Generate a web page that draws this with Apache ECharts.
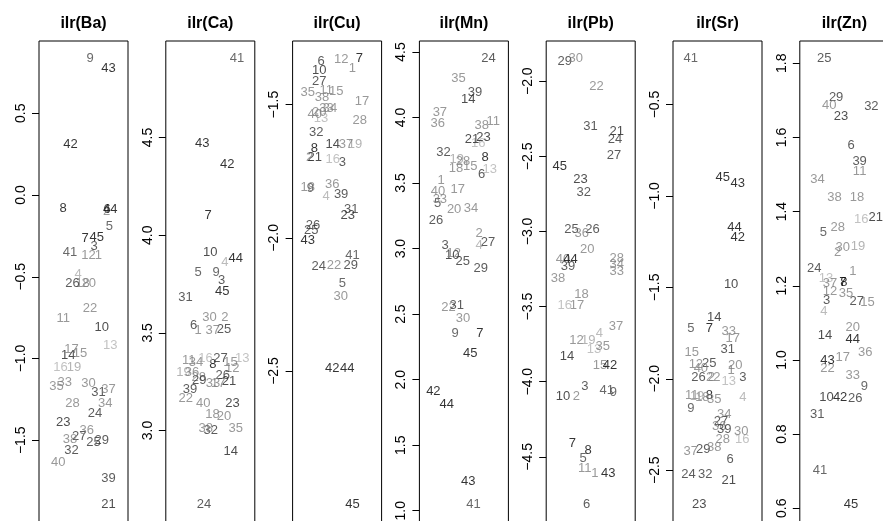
<!DOCTYPE html>
<html>
<head>
<meta charset="utf-8">
<title>ilr coordinates</title>
<script src="https://cdn.jsdelivr.net/npm/echarts@6/dist/echarts.min.js"></script>
<style>
  html, body { margin: 0; padding: 0; background: #fff; }
  #chart { width: 883px; height: 521px; }
</style>
</head>
<body>
<div id="chart"></div>
<script>
// sample numbers, one text label per sample in every panel
const obsIds = [1,2,3,4,5,6,7,8,9,10,11,12,13,14,15,16,17,18,19,20,21,22,23,24,25,
  26,27,28,29,30,31,32,33,34,35,36,37,38,39,40,41,42,43,44,45];
// grey level of each sample label
const obsGray = ["#808080","#808080","#333","#aaa","#444","#333","#000","#000","#444","#222",
  "#808080","#808080","#b3b3b3","#222","#808080","#b3b3b3","#808080","#808080","#a0a0a0","#808080",
  "#222","#808080","#222","#333","#333","#333","#333","#808080","#333","#808080",
  "#333","#333","#808080","#808080","#808080","#808080","#808080","#808080","#333","#808080",
  "#444","#000","#000","#000","#000"];

const panelTitles = ["ilr(Ba)", "ilr(Ca)", "ilr(Cu)", "ilr(Mn)", "ilr(Pb)", "ilr(Sr)", "ilr(Zn)"];

// values (ordered by sample number) and horizontal jitter inside the panel
const baValues = [-0.37,-0.10,-0.313,-0.486,-0.193,-0.09,-0.264,-0.085,0.833,-0.812,
  -0.757,-0.37,-0.918,-0.979,-0.970,-1.052,-0.944,-0.543,-1.052,-0.543,
  -1.891,-0.693,-1.388,-1.337,-1.514,-0.543,-1.474,-1.276,-1.504,-1.154,
  -1.209,-1.565,-1.148,-1.276,-1.168,-1.439,-1.188,-1.494,-1.734,-1.636,
  -0.35,0.311,0.774,-0.089,-0.258];
const baJitter = [0.668,0.76,0.62,0.44,0.79,0.765,0.517,0.272,0.574,0.706,
  0.272,0.555,0.80,0.328,0.46,0.242,0.366,0.49,0.392,0.56,
  0.78,0.574,0.272,0.63,0.611,0.377,0.453,0.377,0.706,0.555,
  0.668,0.366,0.29,0.743,0.196,0.536,0.78,0.347,0.78,0.215,
  0.347,0.355,0.781,0.80,0.65];
const baTicks = [-1.5, -1.0, -0.5, 0.0, 0.5];

const caValues = [3.51,3.58,3.77,3.86,3.81,3.54,4.10,3.34,3.81,3.91,
  3.36,3.32,3.37,2.895,3.35,3.37,3.24,3.08,3.30,3.07,
  3.25,3.165,3.14,2.623,3.52,3.28,3.37,3.27,3.255,3.58,
  3.68,3.00,3.24,3.35,3.01,3.30,3.51,3.01,3.21,3.14,
  4.903,4.36,4.47,3.88,3.71];
const caJitter = [0.362,0.664,0.626,0.664,0.362,0.313,0.475,0.528,0.566,0.50,
  0.257,0.747,0.86,0.73,0.728,0.445,0.59,0.525,0.20,0.655,
  0.71,0.225,0.75,0.43,0.653,0.64,0.615,0.37,0.377,0.49,
  0.22,0.506,0.53,0.34,0.787,0.294,0.528,0.45,0.273,0.42,
  0.80,0.69,0.41,0.785,0.634];
const caTicks = [3.0, 3.5, 4.0, 4.5, 5.0];

const cuValues = [-1.363,-1.697,-1.718,-1.846,-2.171,-1.338,-1.328,-1.664,-1.813,-1.373,
  -1.448,-1.332,-1.552,-1.649,-1.45,-1.705,-1.488,-1.81,-1.649,-1.53,
  -1.697,-2.102,-1.917,-2.109,-1.973,-1.954,-1.413,-1.56,-2.102,-2.22,
  -1.892,-1.606,-1.515,-1.515,-1.456,-1.799,-1.649,-1.473,-1.836,-1.537,
  -2.065,-2.49,-2.01,-2.49,-3.0];
const cuJitter = [0.672,0.19,0.56,0.377,0.558,0.32,0.75,0.245,0.20,0.30,
  0.377,0.547,0.32,0.45,0.49,0.45,0.78,0.17,0.70,0.30,
  0.25,0.464,0.62,0.294,0.21,0.23,0.30,0.754,0.653,0.54,
  0.66,0.265,0.38,0.42,0.17,0.445,0.60,0.33,0.545,0.25,
  0.672,0.445,0.17,0.615,0.672];
const cuTicks = [-2.5, -2.0, -1.5];

const mnValues = [3.521,3.117,3.028,3.028,3.342,3.565,2.35,3.693,2.35,2.951,
  3.974,2.96,3.603,4.136,3.63,3.80,3.455,3.609,3.68,3.296,
  3.833,2.555,3.846,4.448,2.90,3.214,3.046,3.667,2.849,2.466,
  2.568,3.736,3.378,3.309,4.299,3.956,4.038,3.936,4.192,3.437,
  1.05,1.91,1.22,1.81,2.20];
const mnJitter = [0.243,0.67,0.29,0.67,0.205,0.70,0.68,0.737,0.40,0.37,
  0.83,0.385,0.79,0.55,0.57,0.66,0.43,0.41,0.42,0.39,
  0.59,0.326,0.72,0.775,0.486,0.187,0.77,0.49,0.69,0.49,
  0.42,0.27,0.23,0.58,0.438,0.205,0.23,0.70,0.625,0.21,
  0.607,0.157,0.55,0.307,0.57];
const mnTicks = [1.0, 1.5, 2.0, 2.5, 3.0, 3.5, 4.0, 4.5];

const pbValues = [-4.61,-4.10,-4.033,-3.678,-4.51,-4.815,-4.411,-4.46,-4.073,-4.10,
  -4.58,-3.722,-3.784,-3.833,-3.889,-3.489,-3.489,-3.422,-3.722,-3.122,
  -2.333,-2.038,-2.656,-2.389,-2.989,-2.984,-2.496,-3.178,-1.867,-1.851,
  -2.30,-2.74,-3.267,-3.222,-3.762,-3.011,-3.629,-3.311,-3.233,-3.189,
  -4.056,-3.889,-4.61,-3.189,-2.567];
const pbJitter = [0.547,0.34,0.434,0.596,0.415,0.453,0.294,0.472,0.755,0.189,
  0.434,0.34,0.536,0.234,0.604,0.208,0.347,0.396,0.472,0.46,
  0.792,0.566,0.385,0.774,0.283,0.521,0.762,0.792,0.208,0.332,
  0.498,0.423,0.792,0.792,0.634,0.40,0.785,0.132,0.245,0.189,
  0.679,0.717,0.698,0.272,0.151];
const pbTicks = [-4.5, -4.0, -3.5, -3.0, -2.5, -2.0];

const srValues = [-1.955,-1.99,-1.995,-2.10,-1.722,-2.44,-1.726,-2.089,-2.162,-1.486,
  -2.089,-1.92,-2.013,-1.667,-1.858,-2.331,-1.78,-2.10,-2.095,-1.925,
  -2.558,-1.991,-2.686,-2.525,-1.918,-1.991,-2.235,-2.331,-2.386,-2.286,
  -1.84,-2.522,-1.74,-2.195,-2.113,-2.26,-2.395,-2.376,-2.276,-1.944,
  -0.25,-1.225,-0.93,-1.17,-0.90];
const srJitter = [0.653,0.43,0.785,0.785,0.20,0.642,0.408,0.408,0.20,0.653,
  0.21,0.257,0.626,0.464,0.211,0.777,0.672,0.33,0.27,0.70,
  0.626,0.453,0.294,0.174,0.408,0.287,0.54,0.558,0.34,0.766,
  0.615,0.362,0.626,0.577,0.464,0.52,0.20,0.464,0.577,0.313,
  0.20,0.728,0.728,0.69,0.558];
const srTicks = [-2.5, -2.0, -1.5, -1.0, -0.5];

const znValues = [1.239,1.289,1.161,1.13,1.343,1.578,1.209,1.209,0.929,0.899,
  1.509,1.185,1.221,1.067,1.155,1.378,1.006,1.437,1.307,1.087,
  1.383,0.976,1.657,1.248,1.812,0.897,1.158,1.356,1.708,1.304,
  0.854,1.683,0.958,1.486,1.179,1.021,1.206,1.437,1.535,1.686,
  0.702,0.899,1.0,1.056,0.611];
const znJitter = [0.596,0.426,0.30,0.27,0.264,0.577,0.485,0.495,0.725,0.30,
  0.672,0.34,0.294,0.283,0.76,0.69,0.483,0.642,0.653,0.596,
  0.853,0.31,0.464,0.162,0.275,0.623,0.64,0.426,0.408,0.483,
  0.196,0.804,0.596,0.20,0.52,0.736,0.34,0.389,0.672,0.332,
  0.226,0.453,0.31,0.596,0.574];
const znTicks = [0.6, 0.8, 1.0, 1.2, 1.4, 1.6, 1.8];

const panelValues = [baValues, caValues, cuValues, mnValues, pbValues, srValues, znValues];
const panelJitter = [baJitter, caJitter, cuJitter, mnJitter, pbJitter, srJitter, znJitter];
const panelTicks = [baTicks, caTicks, cuTicks, mnTicks, pbTicks, srTicks, znTicks];

const FONT = "'Liberation Sans', Arial, Helvetica, sans-serif";
const boxLeft = 39, boxStep = 126.8, boxWidth = 89, boxTop = 41, boxHeight = 481;

function tickText(v) {
  return (v < 0 ? "\u2212" : "") + Math.abs(v).toFixed(1);
}

const grid = [], xAxis = [], yAxis = [], series = [], title = [];

panelTitles.forEach((name, i) => {
  const vals = panelValues[i];
  const lo = Math.min(...vals), hi = Math.max(...vals);
  const pad = (hi - lo) * 0.04; // R style axis range
  const left = boxLeft + i * boxStep;

  grid.push({
    left: left, top: boxTop, width: boxWidth, height: boxHeight,
    show: true, borderColor: "#000", borderWidth: 1, backgroundColor: "transparent",
    containLabel: false, outerBoundsMode: "none"
  });
  xAxis.push({ gridIndex: i, type: "value", min: 0, max: 1, show: false });
  yAxis.push({
    gridIndex: i, type: "value", min: lo - pad, max: hi + pad,
    axisLine: { show: false },
    splitLine: { show: false },
    axisTick: { show: true, length: 7, customValues: panelTicks[i], lineStyle: { color: "#000", width: 1 } },
    axisLabel: {
      customValues: panelTicks[i], rotate: 90, margin: 11,
      fontSize: 14, color: "#000", fontFamily: FONT, formatter: tickText
    }
  });
  title.push({
    text: name, left: left + boxWidth / 2, top: 16, textAlign: "center", padding: 0,
    textStyle: { fontSize: 16, fontWeight: "bold", color: "#000", fontFamily: FONT }
  });
  series.push({
    type: "scatter", xAxisIndex: i, yAxisIndex: i,
    symbolSize: 1, silent: true,
    itemStyle: { color: "rgba(0,0,0,0)" },
    emphasis: { disabled: true },
    label: { show: true, position: "inside", formatter: "{b}", fontSize: 13, fontFamily: FONT },
    data: obsIds.map((id, k) => ({
      name: String(id),
      value: [panelJitter[i][k], vals[k]],
      label: { color: obsGray[k] }
    }))
  });
});

const chart = echarts.init(document.getElementById("chart"), null, { renderer: "canvas" });
chart.setOption({
  animation: false,
  backgroundColor: "#fff",
  title: title,
  grid: grid,
  xAxis: xAxis,
  yAxis: yAxis,
  series: series
});
</script>
</body>
</html>
